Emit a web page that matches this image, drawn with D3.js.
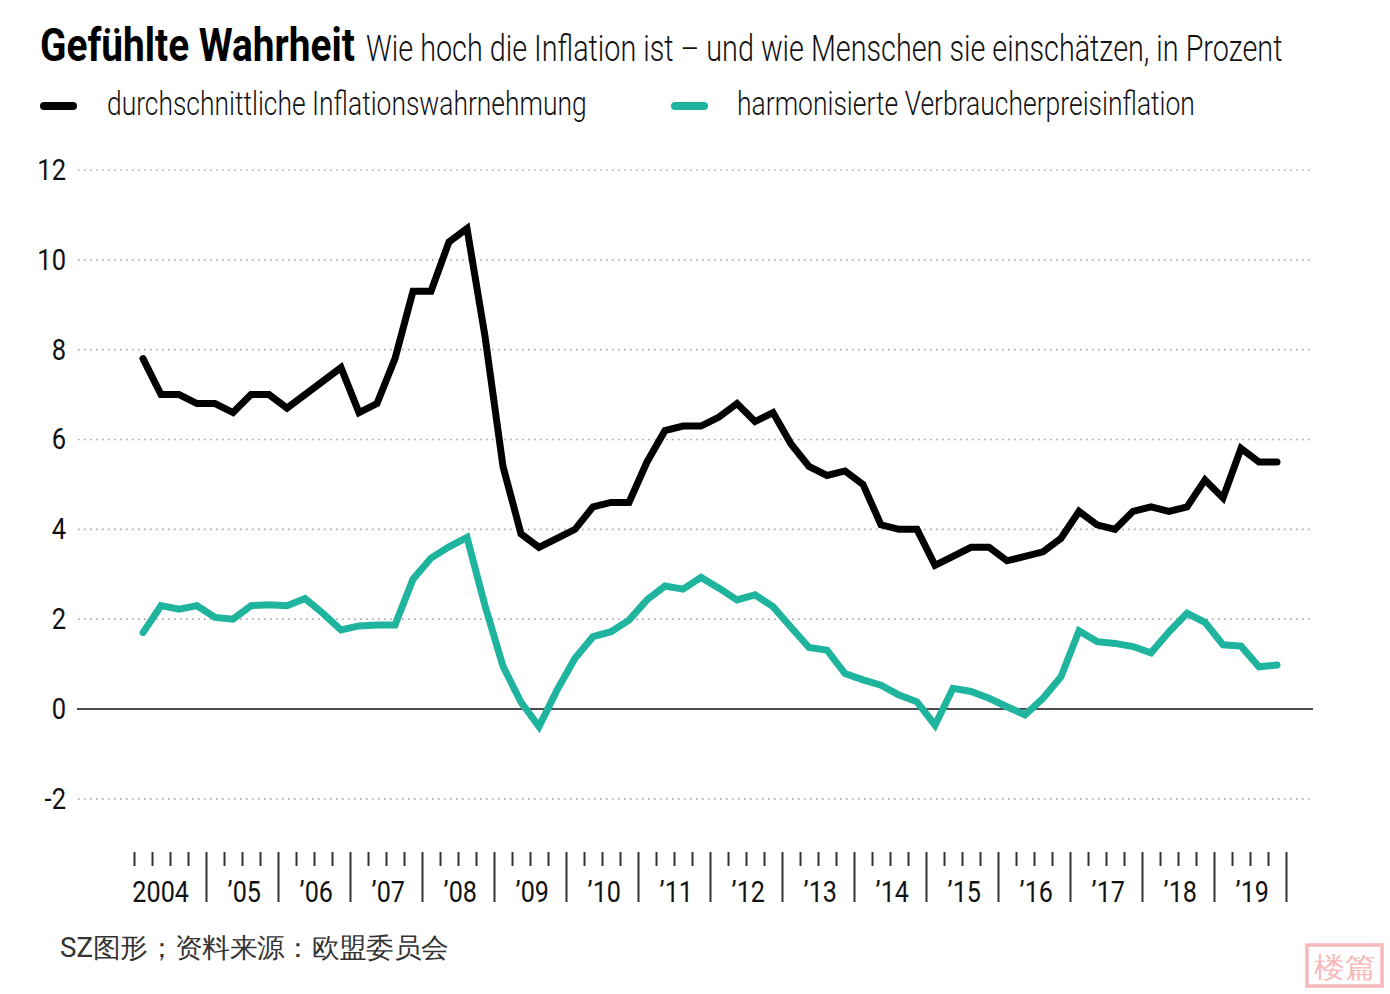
<!DOCTYPE html>
<html><head><meta charset="utf-8">
<script src="https://cdn.jsdelivr.net/npm/d3@7"></script>
<style>
html,body{margin:0;padding:0;background:#fff;}
svg{display:block;}
text{font-family:Roboto,"Noto Sans",sans-serif;}
</style></head>
<body><svg id="c" width="1390" height="994"></svg>
<script>
const perceived = [7.8,7.0,7.0,6.8,6.8,6.6,7.0,7.0,6.7,7.0,
  7.3,7.6,6.6,6.8,7.8,9.3,9.3,10.4,10.7,8.3,
  5.4,3.9,3.6,3.8,4.0,4.5,4.6,4.6,5.5,6.2,
  6.3,6.3,6.5,6.8,6.4,6.6,5.9,5.4,5.2,5.3,
  5.0,4.1,4.0,4.0,3.2,3.4,3.6,3.6,3.3,3.4,
  3.5,3.8,4.4,4.1,4.0,4.4,4.5,4.4,4.5,5.1,
  4.7,5.8,5.5,5.5];
const hicp = [1.7,2.3,2.22,2.3,2.04,2.0,2.3,2.32,2.3,2.46,
  2.13,1.76,1.85,1.87,1.87,2.89,3.36,3.61,3.82,2.3,
  0.95,0.15,-0.39,0.42,1.13,1.61,1.72,1.98,2.43,2.74,
  2.67,2.93,2.69,2.43,2.54,2.28,1.82,1.37,1.31,0.79,
  0.65,0.53,0.31,0.16,-0.36,0.46,0.39,0.24,0.05,-0.13,
  0.24,0.72,1.74,1.5,1.46,1.39,1.25,1.72,2.13,1.93,
  1.43,1.4,0.94,0.98];
const startYear = 2004;
const years = d3.range(2004, 2020);
const yearLabels = ["2004","’05","’06","’07","’08","’09","’10","’11","’12","’13","’14","’15","’16","’17","’18","’19"];
const yTicks = [-2,0,2,4,6,8,10,12];
const seriesNames = ["durchschnittliche Inflationswahrnehmung","harmonisierte Verbraucherpreisinflation"];
const title = "Gefühlte Wahrheit";
const subtitle = "Wie hoch die Inflation ist – und wie Menschen sie einschätzen, in Prozent";
const source = "SZ图形；资料来源：欧盟委员会";

const colBlack = "#000000", colTeal = "#1fb49e";
const svg = d3.select("#c");

const x = d3.scaleLinear().domain([2004, 2020]).range([134, 1286]);
const y = d3.scaleLinear().domain([0, 12]).range([709, 170]);

// place text at (px,py) with anchor, horizontally scaled to target width
function fitText(sel, px, py, width, anchor) {
  sel.each(function(){
    const w = this.getComputedTextLength();
    const sx = width / w;
    const t = d3.select(this).attr("x",0).attr("y",0);
    let ox = px;
    if (anchor === "end") ox = px - width;
    else if (anchor === "middle") ox = px - width/2;
    t.attr("text-anchor","start").attr("transform",`translate(${ox},${py}) scale(${sx},1)`);
  });
  return sel;
}

// Title
fitText(svg.append("text").attr("font-size",46).attr("font-weight",700).attr("fill","#000").text(title), 40, 61, 315);
fitText(svg.append("text").attr("font-size",37).attr("font-weight",300).attr("fill","#111").text(subtitle), 366, 61, 917);

// Legend
const leg = [{x:40,tx:107,tw:480,c:colBlack},{x:671,tx:737,tw:458,c:colTeal}];
leg.forEach((l,i)=>{
  svg.append("line").attr("x1",l.x+4).attr("x2",l.x+33).attr("y1",106).attr("y2",106)
    .attr("stroke",l.c).attr("stroke-width",8).attr("stroke-linecap","round");
  fitText(svg.append("text").attr("font-size",33).attr("font-weight",300).attr("fill","#111").text(seriesNames[i]), l.tx, 115, l.tw);
});

// Gridlines
svg.append("g").selectAll("line").data(yTicks.filter(v=>v!==0)).join("line")
  .attr("x1",78).attr("x2",1310).attr("y1",d=>y(d)).attr("y2",d=>y(d))
  .attr("stroke","#aaaaaa").attr("stroke-width",1.6).attr("stroke-dasharray","1.6 4.4");
svg.append("line").attr("x1",77).attr("x2",1313).attr("y1",y(0)).attr("y2",y(0))
  .attr("stroke","#111").attr("stroke-width",1.6);

// Y labels
svg.append("g").selectAll("text").data(yTicks).join("text")
  .attr("x",66).attr("y",d=>y(d)+10).attr("text-anchor","end").attr("font-size",29).attr("font-weight",400)
  .attr("fill","#111").attr("transform",d=>`translate(66,0) scale(0.88,1) translate(-66,0)`).text(d=>d);

// X axis ticks
const shortTicks = [];
years.forEach(yr=>{ [0.25,0.5,0.75].forEach(q=>shortTicks.push(yr+q)); });
shortTicks.push(2004);
const longTicks = d3.range(2005, 2021);
const axS = d3.axisBottom(x).tickValues(shortTicks).tickSize(14).tickFormat("");
const axL = d3.axisBottom(x).tickValues(longTicks).tickSize(50).tickFormat("");
[axS, axL].forEach(ax=>{
  const g = svg.append("g").attr("transform","translate(0,852)").call(ax);
  g.select(".domain").remove();
  g.selectAll("line").attr("stroke","#333").attr("stroke-width",2);
});
const xl = svg.append("g").selectAll("text").data(years).join("text")
  .attr("font-size",30).attr("font-weight",400).attr("fill","#111").text((d,i)=>yearLabels[i]);
xl.each(function(d){
  const w = this.getComputedTextLength() * 0.84;
  fitText(d3.select(this), x(d+1)-17, 902, w, "end");
});

// Lines
const line = d3.line().x((d,i)=>x(startYear + (i+0.5)/4)).y(d=>y(d));
svg.append("path").datum(hicp).attr("d",line).attr("fill","none").attr("stroke",colTeal)
  .attr("stroke-width",7).attr("stroke-linecap","round").attr("stroke-linejoin","miter");
svg.append("path").datum(perceived).attr("d",line).attr("fill","none").attr("stroke",colBlack)
  .attr("stroke-width",7).attr("stroke-linecap","round").attr("stroke-linejoin","miter");

// Source
fitText(svg.append("text").attr("font-size",27)
  .attr("font-family","'Noto Sans CJK SC',sans-serif").attr("fill","#333").text(source), 60, 957, 393);

// Watermark seal
svg.append("rect").attr("x",1307).attr("y",945).attr("width",75).attr("height",41)
  .attr("fill","#fff").attr("stroke","#f7b9b9").attr("stroke-width",3.5);
fitText(svg.append("text").attr("font-size",28)
  .attr("font-family","'Noto Sans CJK SC',sans-serif").attr("fill","#f7b9b9").text("楼篇"), 1344.5, 977, 62, "middle");
</script></body></html>
